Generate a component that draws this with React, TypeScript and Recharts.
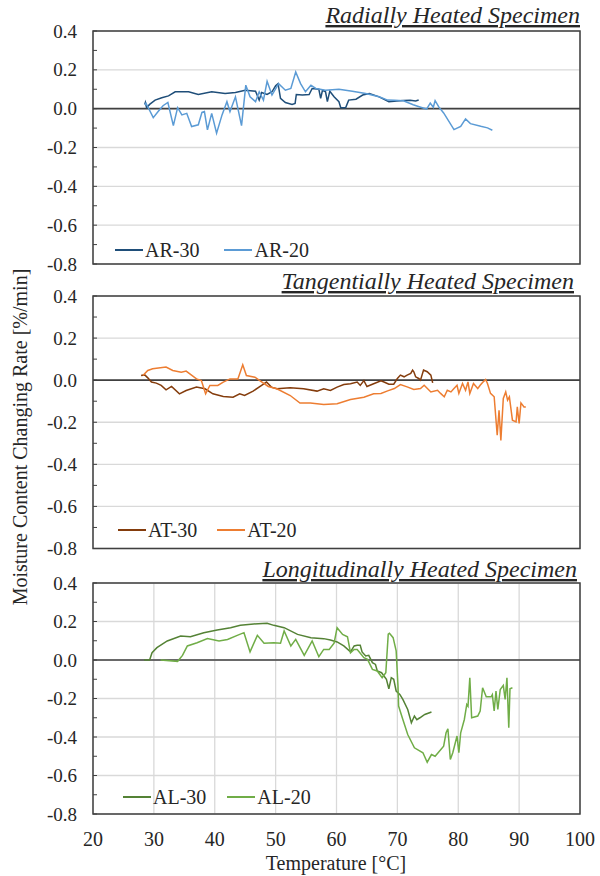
import React from 'react';
import { LineChart, Line, XAxis, YAxis, CartesianGrid, ReferenceLine, ReferenceArea, Legend } from 'recharts';

const FONT = '"Liberation Serif", "Times New Roman", Times, serif';
const TEXT_COLOR = '#262626';

const X_TICKS = [20, 30, 40, 50, 60, 70, 80, 90, 100];
const Y_TICKS = [-0.8, -0.7, -0.6, -0.5, -0.4, -0.3, -0.2, -0.1, 0, 0.1, 0.2, 0.3, 0.4];
const Y_LABELED = ['-0.8', '-0.6', '-0.4', '-0.2', '0.0', '0.2', '0.4'];

const AR30_T = [28.5,28.6,28.8,29.3,30.2,31.3,32.4,33.5,35.7,37.3,39.5,41.7,43.4,45.0,46.7,47.3,47.7,48.6,49.4,50.0,50.4,50.8,51.6,52.7,53.2,53.4,54.4,55.5,56.0,57.1,57.4,57.7,58.2,58.5,58.9,59.6,60.4,60.7,61.5,62.0,63.2,64.3,65.4,67.0,68.6,69.9,71.0,72.1,73.0,73.5];
const AR30_V = [0.022,0.032,0.005,0.022,0.044,0.056,0.066,0.087,0.087,0.073,0.087,0.078,0.083,0.095,0.09,0.044,0.083,0.073,0.087,0.118,0.129,0.053,0.032,0.022,0.027,0.073,0.07,0.073,0.104,0.1,0.053,0.095,0.087,0.036,0.09,0.061,0.036,0.005,0.005,0.044,0.049,0.07,0.078,0.061,0.036,0.04,0.042,0.043,0.04,0.045];

const AR20_T = [28.5,28.7,29.0,29.9,30.7,31.5,32.3,33.2,33.9,34.6,35.4,36.2,37.3,37.9,38.3,38.8,39.5,40.3,41.2,42.0,42.5,43.4,44.4,45.1,45.8,46.7,47.3,48.0,48.6,49.4,50.5,51.6,52.5,53.3,54.1,54.9,55.8,56.6,58.2,60.4,62.6,64.8,67.0,68.4,69.5,71.0,72.6,73.7,74.8,75.4,75.9,76.2,76.8,77.6,79.3,80.4,81.2,82.0,83.7,84.8,85.6];
const AR20_V = [0.02,0.028,0.01,-0.046,-0.015,0.015,0.032,-0.087,0.005,-0.032,-0.024,-0.092,-0.083,-0.019,-0.015,-0.109,-0.024,-0.126,-0.032,0.036,-0.015,0.061,-0.087,0.121,0.061,0.036,0.087,0.044,0.141,0.07,0.129,0.095,0.104,0.189,0.129,0.087,0.121,0.104,0.095,0.1,0.09,0.078,0.061,0.044,0.043,0.041,0.02,0.009,-0.002,0.029,0.007,0.041,0.009,-0.022,-0.108,-0.091,-0.053,-0.077,-0.091,-0.099,-0.111];

const AT30_T = [27.9,28.5,29.0,29.6,30.4,31.2,32.0,32.9,34.2,35.3,37.0,38.4,39.7,41.4,43.0,44.1,44.9,46.3,47.7,48.5,49.3,50.2,52.4,54.6,56.8,57.9,59.0,60.1,61.2,62.3,63.4,63.9,64.5,65.0,66.1,67.3,67.9,68.6,69.4,70.0,70.5,71.1,71.6,72.2,72.5,72.7,73.0,73.5,73.8,74.3,74.9,75.5,75.8];
const AT30_V = [0.022,0.025,0.011,-0.009,-0.014,-0.025,-0.046,-0.03,-0.065,-0.049,-0.033,-0.041,-0.065,-0.078,-0.081,-0.065,-0.073,-0.052,-0.025,-0.009,-0.033,-0.041,-0.036,-0.041,-0.052,-0.041,-0.049,-0.033,-0.021,-0.017,-0.009,-0.025,-0.002,-0.03,-0.017,-0.003,-0.01,-0.019,-0.019,0.008,0.024,0.016,0.024,0.032,0.048,0.04,0.016,0.008,0,0.048,0.04,0.024,-0.013];

const AT20_T = [28.2,29.0,29.8,32.0,33.1,34.5,35.3,37.0,37.8,38.5,39.2,40.5,41.4,42.5,43.8,44.6,45.2,46.6,47.4,48.8,50.2,52.4,54.0,55.7,57.9,60.1,62.3,64.5,66.1,67.3,68.4,69.5,70.5,71.6,72.7,73.8,74.4,75.5,76.6,77.1,77.7,78.2,78.8,79.3,79.8,80.1,80.7,81.2,81.6,81.9,82.5,83.2,83.6,84.1,84.5,84.8,85.3,85.9,86.4,86.7,87.0,87.4,87.8,88.1,88.4,88.9,89.5,89.7,90.0,90.3,90.8,91.1];
const AT20_V = [0.022,0.046,0.054,0.062,0.046,0.038,0.043,0.006,-0.002,-0.065,-0.025,-0.025,-0.009,0.006,0.006,0.073,0.022,0.014,-0.002,-0.03,-0.041,-0.073,-0.109,-0.109,-0.116,-0.112,-0.092,-0.081,-0.065,-0.063,-0.051,-0.04,-0.021,-0.032,-0.044,-0.04,-0.024,-0.056,-0.048,-0.063,-0.079,-0.048,-0.056,-0.04,-0.024,-0.063,-0.016,-0.048,-0.008,-0.063,-0.016,-0.04,-0.024,-0.008,0.003,-0.016,-0.063,-0.079,-0.262,-0.143,-0.286,-0.087,-0.056,-0.095,-0.079,-0.19,-0.198,-0.127,-0.206,-0.108,-0.127,-0.127];

const AL30_T = [28.4,29.3,29.7,30.5,32.2,34.4,36.0,38.2,40.4,42.6,44.2,46.4,48.6,49.7,51.4,53.6,55.8,57.9,59.0,60.1,61.2,62.3,62.9,63.4,63.9,64.2,64.8,65.3,65.9,66.4,66.7,67.4,68.2,68.6,69.0,69.4,69.8,70.4,70.9,71.7,72.3,72.8,73.2,73.7,74.5,75.6];
const AL30_V = [0,0,0.038,0.064,0.099,0.125,0.121,0.142,0.156,0.168,0.18,0.187,0.191,0.18,0.168,0.133,0.116,0.111,0.104,0.094,0.073,0.042,0.073,0.076,0.076,0.042,0.021,0.024,-0.014,-0.023,-0.057,-0.066,-0.1,-0.15,-0.092,-0.1,-0.161,-0.179,-0.205,-0.257,-0.326,-0.291,-0.31,-0.3,-0.283,-0.27];

const AL20_T = [31.1,33.9,34.7,35.5,37.1,38.8,40.7,42.1,43.7,44.8,45.8,47.0,48.1,49.7,50.8,51.4,52.5,53.3,54.7,56.0,57.1,57.9,58.8,59.6,60.1,61.0,61.8,62.3,62.9,63.4,64.5,65.1,65.9,66.7,67.5,68.1,68.5,68.7,69.3,69.8,70.1,70.2,70.9,71.7,72.8,74.2,74.9,75.6,76.2,76.9,77.6,78.0,78.3,78.7,79.1,79.8,80.1,80.4,81.0,81.4,81.6,81.9,82.2,83.2,83.6,84.0,84.6,85.4,85.6,85.9,86.2,86.5,86.9,87.4,87.7,88.0,88.3,88.5,88.9];
const AL20_V = [0,-0.007,0.024,0.073,0.09,0.111,0.099,0.107,0.128,0.142,0.042,0.128,0.087,0.09,0.087,0.151,0.073,0.107,0.024,0.099,0.017,0.055,0.055,0.087,0.168,0.133,0.121,0.038,0.055,0.055,0.012,0.003,-0.049,-0.057,-0.092,-0.066,0.134,0.139,0.116,0.047,-0.135,-0.239,-0.309,-0.387,-0.456,-0.482,-0.531,-0.491,-0.5,-0.474,-0.448,-0.378,-0.357,-0.517,-0.482,-0.395,-0.482,-0.378,-0.309,-0.231,-0.24,-0.092,-0.3,-0.291,-0.265,-0.144,-0.191,-0.191,-0.18,-0.265,-0.161,-0.257,-0.153,-0.132,-0.205,-0.092,-0.352,-0.149,-0.144];

const zip = (ts: number[], vs: number[]) => {
  const n = Math.min(ts.length, vs.length);
  const out: { t: number; v: number }[] = [];
  for (let i = 0; i < n; i++) out.push({ t: ts[i], v: vs[i] });
  return out;
};

type Series = { name: string; color: string; data: { t: number; v: number }[] };

const PANELS = [
  {
    title: 'Radially Heated Specimen', titleX: 580, titleY: 23,
    plotTop: 31, plotH: 233, showX: false,
    legendLeft: 115, legendY: 250, legendGap: 25,
    series: [
      { name: 'AR-30', color: '#1f4e79', data: zip(AR30_T, AR30_V) },
      { name: 'AR-20', color: '#5b9bd5', data: zip(AR20_T, AR20_V) },
    ] as Series[],
  },
  {
    title: 'Tangentially Heated Specimen', titleX: 574, titleY: 289,
    plotTop: 296, plotH: 252.5, showX: false,
    legendLeft: 118, legendY: 530, legendGap: 20,
    series: [
      { name: 'AT-30', color: '#843c0c', data: zip(AT30_T, AT30_V) },
      { name: 'AT-20', color: '#ed7d31', data: zip(AT20_T, AT20_V) },
    ] as Series[],
  },
  {
    title: 'Longitudinally Heated Specimen', titleX: 577, titleY: 577,
    plotTop: 583.3, plotH: 231, showX: true,
    legendLeft: 123, legendY: 797, legendGap: 21,
    series: [
      { name: 'AL-30', color: '#548235', data: zip(AL30_T, AL30_V) },
      { name: 'AL-20', color: '#70ad47', data: zip(AL20_T, AL20_V) },
    ] as Series[],
  },
];

const makeLegend = (gap: number, order: string[]) => (props: any) => {
  const items = [...(props.payload || [])].sort(
    (a: any, b: any) => order.indexOf(a.value) - order.indexOf(b.value)
  );
  return (
    <div style={{ display: 'flex', alignItems: 'center', fontFamily: FONT, fontSize: 20, color: TEXT_COLOR, whiteSpace: 'nowrap', lineHeight: '24px' }}>
      {items.map((p: any, i: number) => (
        <div key={i} style={{ display: 'flex', alignItems: 'center', marginRight: gap }}>
          <svg width={28} height={4} style={{ display: 'block' }}>
            <line x1={0} y1={2} x2={28} y2={2} stroke={p.color} strokeWidth={2} />
          </svg>
          <span style={{ marginLeft: 2, fontFamily: FONT }}>{p.value}</span>
        </div>
      ))}
    </div>
  );
};

const Y_TICK_MARGIN = 16;

const YTick = (props: any) => {
  const { x, y, payload } = props;
  const label = Number(payload.value).toFixed(1).replace('-0.0', '0.0');
  const axisX = x + Y_TICK_MARGIN;
  return (
    <g>
      <line x1={axisX} y1={y} x2={axisX + 4} y2={y} stroke="#404040" strokeWidth={1} />
      {Y_LABELED.includes(label) && (
        <text x={x} y={y} dy="0.35em" textAnchor="end" fontFamily={FONT} fontSize={19} fill={TEXT_COLOR}>
          {label}
        </text>
      )}
    </g>
  );
};

const XTick = (props: any) => {
  const { x, y, payload } = props;
  return (
    <text x={x} y={y} dy="0.71em" textAnchor="middle" fontFamily={FONT} fontSize={20} fill={TEXT_COLOR}>
      {payload.value}
    </text>
  );
};

const PAD = 14;
const X_AXIS_H = 50;

function Panel({ p }: { p: typeof PANELS[number] }) {
  const top = p.plotTop - PAD;
  const height = PAD + p.plotH + (p.showX ? X_AXIS_H : PAD);
  const order = p.series.map((s) => s.name);
  return (
    <div style={{ position: 'absolute', left: 0, top, width: 600, height, fontFamily: FONT }}>
      <LineChart width={600} height={height} margin={{ top: PAD, right: 20, bottom: p.showX ? 0 : PAD, left: 0 }}>
        <CartesianGrid stroke="#d9d9d9" strokeWidth={1.3} horizontalValues={[-0.8, -0.6, -0.4, -0.2, 0, 0.2, 0.4]} />
        <XAxis
          dataKey="t"
          type="number"
          domain={[20, 100]}
          ticks={X_TICKS}
          allowDataOverflow
          height={p.showX ? X_AXIS_H : 0}
          axisLine={false}
          tickLine={false}
          tickSize={0}
          tickMargin={p.showX ? 18 : 0}
          tick={p.showX ? <XTick /> : false}
        />
        <YAxis
          type="number"
          domain={[-0.8, 0.4]}
          ticks={Y_TICKS}
          interval={0}
          allowDataOverflow
          width={93}
          axisLine={false}
          tickLine={false}
          tickSize={0}
          tickMargin={Y_TICK_MARGIN}
          tick={<YTick />}
        />
        <ReferenceLine y={0} stroke="#404040" strokeWidth={1.6} />
        {p.series.map((s) => (
          <Line
            key={s.name}
            data={s.data}
            dataKey="v"
            name={s.name}
            type="linear"
            stroke={s.color}
            strokeWidth={1.5}
            dot={false}
            activeDot={false}
            isAnimationActive={false}
          />
        ))}
        <ReferenceArea x1={20} x2={100} y1={-0.8} y2={0.4} fill="none" stroke="#404040" strokeWidth={1.5} />
        <Legend
          layout="vertical"
          align="center"
          verticalAlign="middle"
          content={makeLegend(p.legendGap, order)}
          wrapperStyle={{ left: p.legendLeft, top: p.legendY - 12 - top, width: 'auto', height: 24 }}
        />
      </LineChart>
    </div>
  );
}

export default function App() {
  return (
    <div style={{ position: 'absolute', left: 0, top: 0, width: 600, height: 876, background: '#fff', fontFamily: FONT }}>
      {PANELS.map((p) => (
        <Panel key={p.title} p={p} />
      ))}
      <svg width={600} height={876} style={{ position: 'absolute', left: 0, top: 0, pointerEvents: 'none' }}>
        {PANELS.map((p) => (
          <text
            key={p.title}
            x={p.titleX}
            y={p.titleY}
            textAnchor="end"
            fontFamily={FONT}
            fontStyle="italic"
            fontSize={24}
            fill={TEXT_COLOR}
            style={{ textDecoration: 'underline' }}
          >
            {p.title}
          </text>
        ))}
        <text
          x={0}
          y={0}
          transform="translate(27,437) rotate(-90)"
          textAnchor="middle"
          fontFamily={FONT}
          fontSize={20}
          fill={TEXT_COLOR}
        >
          Moisture Content Changing Rate [%/min]
        </text>
        <text x={336} y={870} textAnchor="middle" fontFamily={FONT} fontSize={20} fill={TEXT_COLOR}>
          Temperature [°C]
        </text>
      </svg>
    </div>
  );
}
